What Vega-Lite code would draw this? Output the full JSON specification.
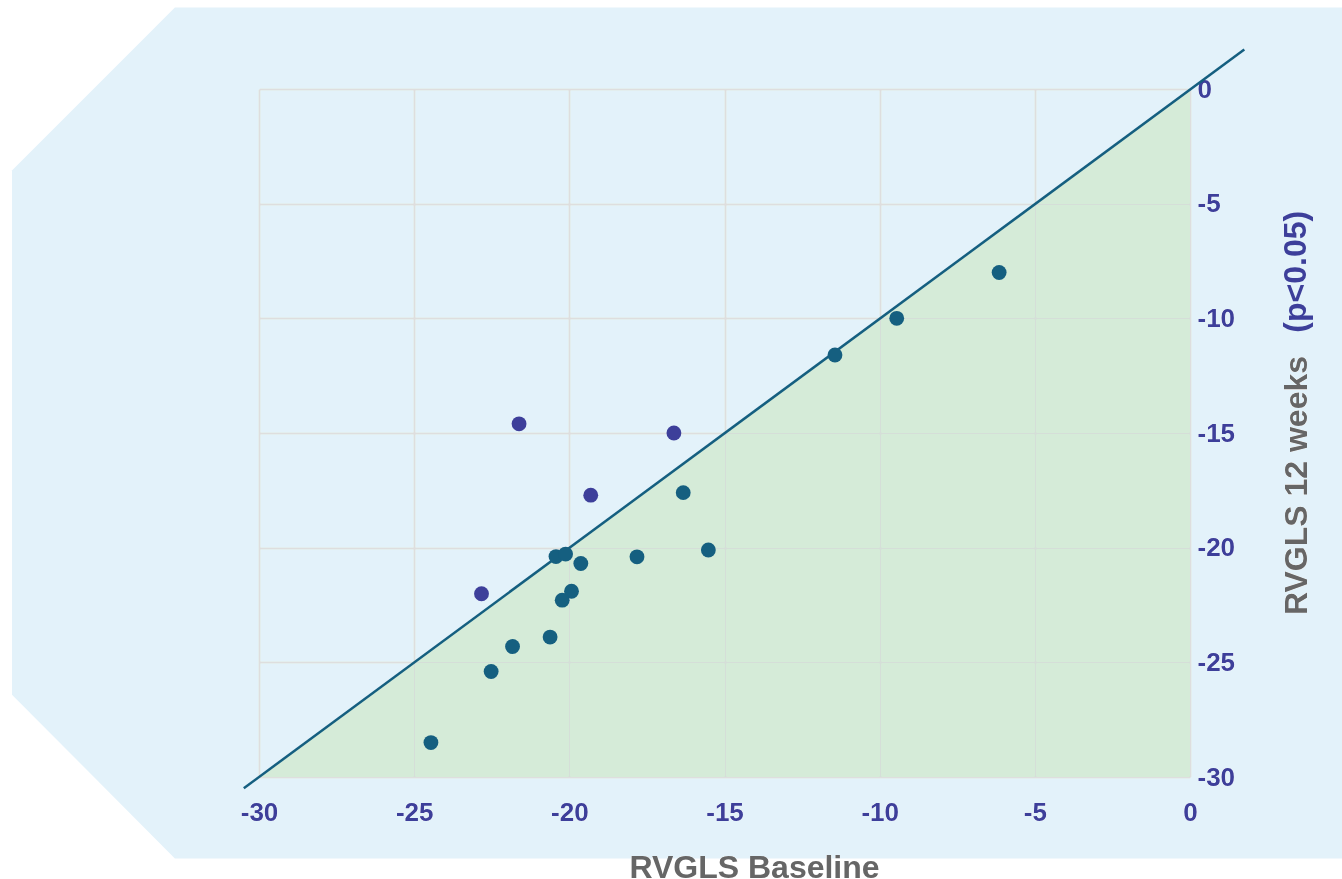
{
  "$schema": "https://vega.github.io/schema/vega-lite/v6.json",
  "autosize": {"type": "none"},
  "width": 931,
  "height": 688,
  "padding": {"left": 259, "top": 89, "right": 152, "bottom": 102},
  "background": "#ffffff",
  "config": {
    "view": {"stroke": null},
    "font": "Liberation Sans"
  },
  "encoding": {
    "x": {
      "field": "x", "type": "quantitative",
      "scale": {"domain": [-30, 0], "nice": false, "zero": false},
      "axis": {
        "title": "RVGLS Baseline",
        "values": [-30, -25, -20, -15, -10, -5, 0],
        "labelExpr": "'' + datum.value",
        "labelFlush": false,
        "domain": false, "ticks": false,
        "grid": true, "gridColor": "#dedede", "gridWidth": 2,
        "labelFont": "Liberation Sans", "labelFontSize": 26, "labelFontWeight": "bold",
        "labelColor": "#3d3f9a", "labelPadding": 22,
        "titleFont": "Liberation Sans", "titleFontSize": 32, "titleFontWeight": "bold",
        "titleColor": "#666666", "titlePadding": 27,
        "titleX": 495, "titleAlign": "center"
      }
    },
    "y": {
      "field": "y", "type": "quantitative",
      "scale": {"domain": [-30, 0], "nice": false, "zero": false},
      "axis": {
        "orient": "right",
        "title": "RVGLS 12 weeks",
        "values": [-30, -25, -20, -15, -10, -5, 0],
        "labelExpr": "'' + datum.value",
        "labelFlush": false,
        "domain": false, "ticks": false,
        "grid": true, "gridColor": "#dedede", "gridWidth": 2,
        "labelFont": "Liberation Sans", "labelFontSize": 26, "labelFontWeight": "bold",
        "labelColor": "#3d3f9a", "labelPadding": 7,
        "titleFont": "Liberation Sans", "titleFontSize": 32, "titleFontWeight": "bold",
        "titleColor": "#666666", "titleAngle": 270,
        "titleX": 116, "titleY": 396, "titleAlign": "center", "titleBaseline": "alphabetic"
      }
    }
  },
  "layer": [
    {
      "data": {"values": [
        {"x": -37.96, "y": -3.55, "y2": -26.41},
        {"x": -32.71, "y": 3.55, "y2": -33.55},
        {"x": 5.0, "y": 3.55, "y2": -33.55}
      ]},
      "mark": {"type": "area", "color": "#e3f2fa", "blend": "darken", "clip": false},
      "encoding": {"y2": {"field": "y2"}}
    },
    {
      "data": {"values": [
        {"x": -30, "y": -30, "y2": -30},
        {"x": 0, "y": 0, "y2": -30}
      ]},
      "mark": {"type": "area", "color": "#d5ebd8", "blend": "darken"},
      "encoding": {"y2": {"field": "y2"}}
    },
    {
      "data": {"values": [
        {"x": -30.49, "y": -30.49},
        {"x": 1.75, "y": 1.72}
      ]},
      "mark": {"type": "line", "color": "#155f80", "strokeWidth": 2.5, "clip": false}
    },
    {
      "data": {"values": [
        {"x": -6.15, "y": -8.0, "g": "below"},
        {"x": -9.45, "y": -10.0, "g": "below"},
        {"x": -11.44, "y": -11.6, "g": "below"},
        {"x": -16.63, "y": -15.0, "g": "above"},
        {"x": -21.62, "y": -14.6, "g": "above"},
        {"x": -19.31, "y": -17.71, "g": "above"},
        {"x": -16.33, "y": -17.6, "g": "below"},
        {"x": -15.52, "y": -20.1, "g": "below"},
        {"x": -17.82, "y": -20.4, "g": "below"},
        {"x": -20.43, "y": -20.39, "g": "below"},
        {"x": -20.12, "y": -20.28, "g": "below"},
        {"x": -19.63, "y": -20.69, "g": "below"},
        {"x": -19.93, "y": -21.9, "g": "below"},
        {"x": -20.23, "y": -22.29, "g": "below"},
        {"x": -22.83, "y": -22.01, "g": "above"},
        {"x": -20.62, "y": -23.9, "g": "below"},
        {"x": -21.83, "y": -24.31, "g": "below"},
        {"x": -22.52, "y": -25.4, "g": "below"},
        {"x": -24.46, "y": -28.5, "g": "below"}
      ]},
      "mark": {"type": "circle", "size": 220, "opacity": 1},
      "encoding": {
        "color": {
          "field": "g", "type": "nominal",
          "scale": {"domain": ["below", "above"], "range": ["#155f80", "#3d3f9a"]},
          "legend": null
        }
      }
    },
    {
      "data": {"values": [{"x": 3.738, "y": -7.97, "label": "(p<0.05)"}]},
      "mark": {"type": "text", "angle": 270, "align": "center", "baseline": "alphabetic",
               "font": "Liberation Sans", "fontSize": 32, "fontWeight": "bold", "color": "#3d3f9a", "clip": false},
      "encoding": {
        "text": {"field": "label", "type": "nominal"}
      }
    }
  ]
}
